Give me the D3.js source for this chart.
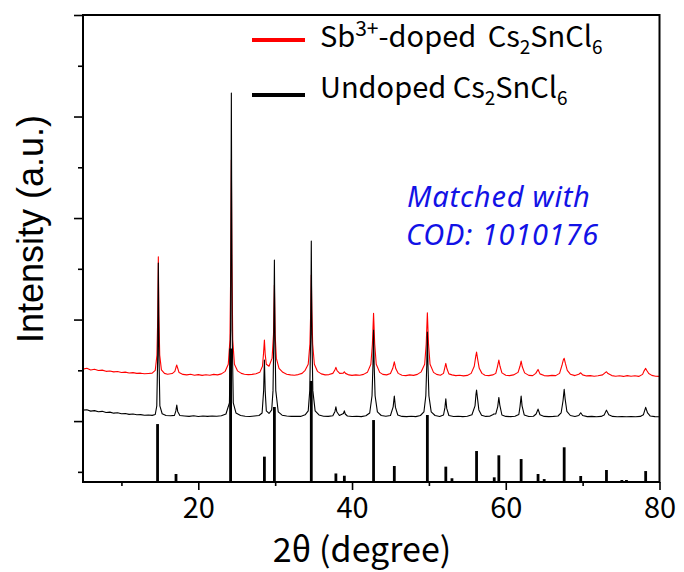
<!DOCTYPE html>
<html>
<head>
<meta charset="utf-8">
<script src="https://cdn.jsdelivr.net/npm/d3@7"></script>
<style>
  body { margin: 0; background: #fff; }
</style>
</head>
<body>
<svg id="xrdSVG" width="684" height="572"></svg>
<script>
// --- Data ---
// [2theta, intensity a.u.]
const dopedTrace = [
  [5.0,512],[5.5,520],[6.0,503],[6.5,510],[7.0,498],[7.5,502],[8.0,490],[8.5,494],[9.0,485],[9.5,488],
  [10.0,478],[10.5,482],[11.0,474],[11.5,477],[12.0,470],[12.5,472],[13.0,466],[13.5,469],[14.0,472],
  [14.4,500],[14.62,650],[14.73,1050],[14.8,1619],[14.87,1050],[14.98,650],[15.2,505],[15.6,470],
  [16.0,462],[16.6,468],[16.95,490],[17.1,530],[17.2,552],[17.3,525],[17.5,478],
  [18.0,460],[18.5,455],[19.0,462],[19.5,452],[20.0,458],[20.5,450],[21.0,456],[21.5,452],[22.0,460],
  [22.5,455],[23.0,465],[23.5,490],
  [23.9,560],[24.12,800],[24.23,1600],[24.3,2571],[24.37,1600],[24.48,800],[24.7,560],[25.1,495],[25.6,470],
  [26.0,462],[26.5,458],[27.0,460],[27.5,466],[28.0,480],
  [28.35,540],[28.5,680],[28.6,798],[28.7,660],[28.85,560],[29.2,540],
  [29.6,620],[29.78,850],[29.9,1340],[30.0,850],[30.15,620],[30.5,520],[31.0,480],
  [31.5,462],[32.0,455],[32.5,452],[33.0,458],[33.5,470],[33.9,500],
  [34.3,560],[34.52,760],[34.63,1100],[34.7,1438],[34.77,1100],[34.88,760],[35.1,560],[35.5,490],
  [36.0,465],[36.5,455],[37.0,458],[37.5,470],
  [37.75,500],[37.9,529],[38.05,498],[38.4,470],[38.85,472],[39.0,486],[39.15,470],
  [39.6,455],[40.0,450],[40.5,455],[41.0,452],[41.5,460],[42.0,480],
  [42.45,560],[42.65,760],[42.8,1061],[42.95,760],[43.15,560],[43.6,480],
  [44.0,460],[44.5,455],[45.0,468],[45.3,520],[45.5,584],[45.7,515],[46.0,470],
  [46.5,452],[47.0,448],[47.5,455],[48.0,450],[48.5,460],[49.0,485],
  [49.45,560],[49.65,760],[49.8,1067],[49.95,760],[50.15,560],[50.6,480],
  [51.0,460],[51.5,452],[51.9,470],[52.05,520],[52.2,568],[52.35,515],[52.6,465],
  [53.0,455],[53.5,448],[54.0,452],[54.5,445],[55.0,450],[55.5,470],
  [55.9,540],[56.1,640],[56.2,680],[56.32,620],[56.55,520],[56.9,470],
  [57.3,452],[57.8,448],[58.3,455],[58.7,470],[58.9,530],[59.1,601],[59.25,540],[59.5,475],
  [60.0,452],[60.5,448],[61.0,455],[61.6,480],[61.85,540],[62.0,591],[62.15,535],[62.45,475],
  [63.0,450],[63.5,448],[63.9,470],[64.2,509],[64.45,465],
  [65.0,448],[65.5,445],[66.0,450],[66.5,448],[67.0,470],
  [67.35,560],[67.5,605],[67.6,618],[67.75,570],[68.0,500],[68.4,462],
  [69.0,448],[69.5,462],[69.75,476],[70.0,455],
  [70.5,445],[71.0,448],[71.5,442],[72.0,447],[72.6,455],[72.9,475],[73.1,486],[73.3,468],
  [73.8,448],[74.3,442],[74.8,446],[75.3,440],[75.8,448],[76.3,442],[76.8,446],[77.3,440],[77.8,460],
  [78.0,495],[78.2,519],[78.35,498],[78.6,468],[79.0,450],[79.5,442],[80.0,440]
];

const undopedTrace = [
  [5.0,108],[5.5,112],[6.0,98],[6.5,103],[7.0,92],[7.5,96],[8.0,85],[8.5,88],[9.0,78],[9.5,82],
  [10.0,72],[10.5,75],[11.0,66],[11.5,70],[12.0,62],[12.5,64],[13.0,58],[13.5,60],[14.0,56],[14.4,65],
  [14.6,150],[14.72,650],[14.8,1557],[14.88,650],[15.0,150],[15.3,72],[15.8,55],
  [16.4,52],[16.9,56],[17.08,100],[17.2,158],[17.32,95],[17.6,55],
  [18.2,50],[18.8,46],[19.4,52],[20.0,45],[20.6,50],[21.2,46],[21.8,50],[22.4,47],[23.0,52],[23.6,70],
  [24.05,180],[24.2,900],[24.3,3232],[24.4,900],[24.55,180],[24.9,80],[25.5,55],
  [26.1,48],[26.7,45],[27.3,50],[27.9,55],[28.3,80],
  [28.5,300],[28.6,601],[28.7,300],[28.85,100],[29.2,75],[29.55,110],
  [29.72,300],[29.82,800],[29.9,1586],[29.98,800],[30.08,300],[30.4,90],[30.9,58],
  [31.5,50],[32.1,46],[32.7,48],[33.3,46],[33.9,62],[34.3,100],
  [34.5,300],[34.62,850],[34.7,1773],[34.78,850],[34.9,300],[35.2,100],[35.7,60],
  [36.3,48],[36.9,46],[37.5,52],[37.78,95],[37.9,141],[38.02,92],[38.35,55],
  [38.88,75],[39.0,101],[39.12,70],[39.4,50],
  [40.0,45],[40.6,48],[41.2,44],[41.8,52],[42.3,80],
  [42.6,250],[42.72,550],[42.8,897],[42.88,550],[43.0,250],[43.3,90],[43.8,55],
  [44.4,48],[45.0,55],[45.35,140],[45.5,246],[45.65,135],[45.95,60],
  [46.5,46],[47.1,44],[47.7,48],[48.3,44],[48.9,55],[49.35,90],
  [49.6,250],[49.72,550],[49.8,877],[49.88,550],[50.0,250],[50.3,90],[50.8,55],
  [51.4,46],[51.9,60],[52.08,130],[52.2,220],[52.32,125],[52.6,55],
  [53.2,45],[53.8,48],[54.4,44],[55.0,47],[55.6,62],
  [56.0,150],[56.12,260],[56.2,305],[56.3,240],[56.5,110],[56.85,58],
  [57.4,46],[57.9,48],[58.3,62],[58.45,70],[58.7,70],[58.95,140],[59.1,233],[59.22,160],[59.5,60],
  [60.0,46],[60.6,44],[61.2,48],[61.7,65],[61.85,140],[62.0,246],[62.12,150],[62.4,60],
  [63.0,45],[63.6,48],[63.95,70],[64.2,118],[64.45,62],
  [65.0,46],[65.6,44],[66.2,46],[66.8,50],[67.2,80],
  [67.45,200],[67.6,312],[67.72,220],[67.95,95],[68.4,55],
  [69.0,45],[69.5,55],[69.75,82],[70.0,55],
  [70.6,44],[71.2,46],[71.8,42],[72.4,46],[72.8,60],[73.1,108],[73.4,62],
  [73.9,46],[74.5,42],[75.1,45],[75.7,42],[76.3,45],[76.9,42],[77.5,46],[77.9,62],
  [78.2,135],[78.45,80],[78.8,50],[79.4,44],[80.0,42]
];

// COD 1010176 reference reflections (relative intensity, %)
const codPositions = [14.7,17.1,24.2,28.6,29.9,34.7,37.9,39.0,42.8,45.5,49.8,52.2,53.0,56.2,58.5,59.1,62.0,64.2,65.0,67.6,69.75,73.1,75.1,75.7,78.2];
const codIntensity = [43.4,6.0,100,19.0,56.2,75.7,6.4,4.7,46.4,12.0,50.2,11.5,2.8,23.2,3.5,20.0,17.2,6.0,2.2,26.0,4.5,9.0,1.5,1.5,8.2];

const xMajorTicks = [20, 40, 60, 80];
const xMinorTicks = [10, 30, 50, 70];
const yMajorTicks = [0, 1000, 2000, 3000, 4000];
const yMinorTicks = [-500, 500, 1500, 2500, 3500];

const legendColors = ["#ff0000", "#000000"];

// --- Chart ---
const svg = d3.select("#xrdSVG");
const box = { left: 83, right: 659.5, top: 15, bottom: 482 };

const x = d3.scaleLinear().domain([5, 80]).range([box.left, box.right]);
const y = d3.scaleLinear().domain([-600, 4000]).range([box.bottom, box.top]);
// stick pattern sits on the bottom axis, 100% = tallest stick
const yRef = d3.scaleLinear().domain([0, 100]).range([box.bottom, 348.5]);

const line = d3.line()
  .x(d => x(d[0]))
  .y(d => y(d[1]));

// --- Traces ---
svg.append("path")
  .datum(dopedTrace)
  .attr("fill", "none")
  .attr("stroke", legendColors[0])
  .attr("stroke-width", 1.1)
  .attr("stroke-linejoin", "round")
  .attr("d", line);

svg.append("path")
  .datum(undopedTrace)
  .attr("fill", "none")
  .attr("stroke", legendColors[1])
  .attr("stroke-width", 1.1)
  .attr("stroke-linejoin", "round")
  .attr("d", line);

// --- Reference sticks ---
svg.append("g")
  .selectAll("line")
  .data(codPositions.map((p, i) => ({ pos: p, rel: codIntensity[i] })))
  .join("line")
  .attr("x1", d => x(d.pos))
  .attr("x2", d => x(d.pos))
  .attr("y1", yRef(0))
  .attr("y2", d => yRef(d.rel))
  .attr("stroke", "#000")
  .attr("stroke-width", 2.8);

// --- Axes ---
const tickFont = "'Noto Sans CJK KR', 'Noto Sans', sans-serif";

const xAxis = svg.append("g")
  .attr("transform", `translate(0,${box.bottom})`)
  .call(d3.axisBottom(x).tickValues(xMajorTicks).tickSize(8).tickFormat(d3.format("d")));
xAxis.select(".domain").remove();
xAxis.selectAll("line").attr("stroke-width", 1.6);
xAxis.selectAll("text")
  .attr("y", 36)
  .attr("dy", null)
  .attr("font-family", tickFont)
  .attr("font-size", 29)
  .attr("fill", "#000");

const xMinor = svg.append("g")
  .attr("transform", `translate(0,${box.bottom})`)
  .call(d3.axisBottom(x).tickValues(xMinorTicks).tickSize(4).tickFormat(""));
xMinor.select(".domain").remove();
xMinor.selectAll("line").attr("stroke-width", 1.6);

const yAxis = svg.append("g")
  .attr("transform", `translate(${box.left},0)`)
  .call(d3.axisLeft(y).tickValues(yMajorTicks).tickSize(9).tickFormat(""));
yAxis.select(".domain").remove();
yAxis.selectAll("line").attr("stroke-width", 1.6);

const yMinor = svg.append("g")
  .attr("transform", `translate(${box.left},0)`)
  .call(d3.axisLeft(y).tickValues(yMinorTicks).tickSize(5).tickFormat(""));
yMinor.select(".domain").remove();
yMinor.selectAll("line").attr("stroke-width", 1.6);

// frame
svg.append("rect")
  .attr("x", box.left)
  .attr("y", box.top)
  .attr("width", box.right - box.left)
  .attr("height", box.bottom - box.top)
  .attr("fill", "none")
  .attr("stroke", "#000")
  .attr("stroke-width", 2);

// --- Axis labels ---
svg.append("text")
  .attr("x", 362)
  .attr("y", 562)
  .attr("text-anchor", "middle")
  .attr("font-family", tickFont)
  .attr("font-size", 34)
  .text("2θ (degree)");

svg.append("text")
  .attr("transform", "rotate(-90)")
  .attr("x", -229)
  .attr("y", 43)
  .attr("text-anchor", "middle")
  .attr("font-family", "'Liberation Sans', Arial, sans-serif")
  .attr("font-size", 36)
  .text("Intensity (a.u.)");

// --- Legend ---
const legendRows = [
  { y: 40, base: 47, color: legendColors[0], parts: [["Sb", 0, 0], ["3+", -1, 0], ["-doped", 0, 0], [" Cs", 0, 5], ["2", 1, 0], ["SnCl", 0, 0], ["6", 1, 0]] },
  { y: 95, base: 98, color: legendColors[1], parts: [["Undoped Cs", 0, 0], ["2", 1, 0], ["SnCl", 0, 0], ["6", 1, 0]] }
];

legendRows.forEach(row => {
  svg.append("line")
    .attr("x1", 252).attr("x2", 305)
    .attr("y1", row.y).attr("y2", row.y)
    .attr("stroke", row.color)
    .attr("stroke-width", 4);

  const t = svg.append("text")
    .attr("x", 320)
    .attr("y", row.base)
    .attr("font-family", tickFont)
    .attr("font-size", 29)
    .attr("fill", "#000")
    .attr("xml:space", "preserve");

  let shift = 0;
  row.parts.forEach(([s, pos, gap]) => {
    const target = pos === -1 ? -11 : pos === 1 ? 7 : 0;
    t.append("tspan")
      .attr("dx", gap)
      .attr("dy", target - shift)
      .attr("font-size", pos === 0 ? 29 : pos === -1 ? 21 : 19)
      .text(s);
    shift = target;
  });
});

// --- Annotation ---
const note = svg.append("text")
  .attr("font-family", "'Noto Sans', sans-serif")
  .attr("font-style", "italic")
  .attr("font-size", 29)
  .attr("letter-spacing", 0.8)
  .attr("fill", "#1212e6");
note.append("tspan").attr("x", 407).attr("y", 207).text("Matched with");
note.append("tspan").attr("x", 406).attr("y", 245).text("COD: 1010176");
</script>
</body>
</html>
